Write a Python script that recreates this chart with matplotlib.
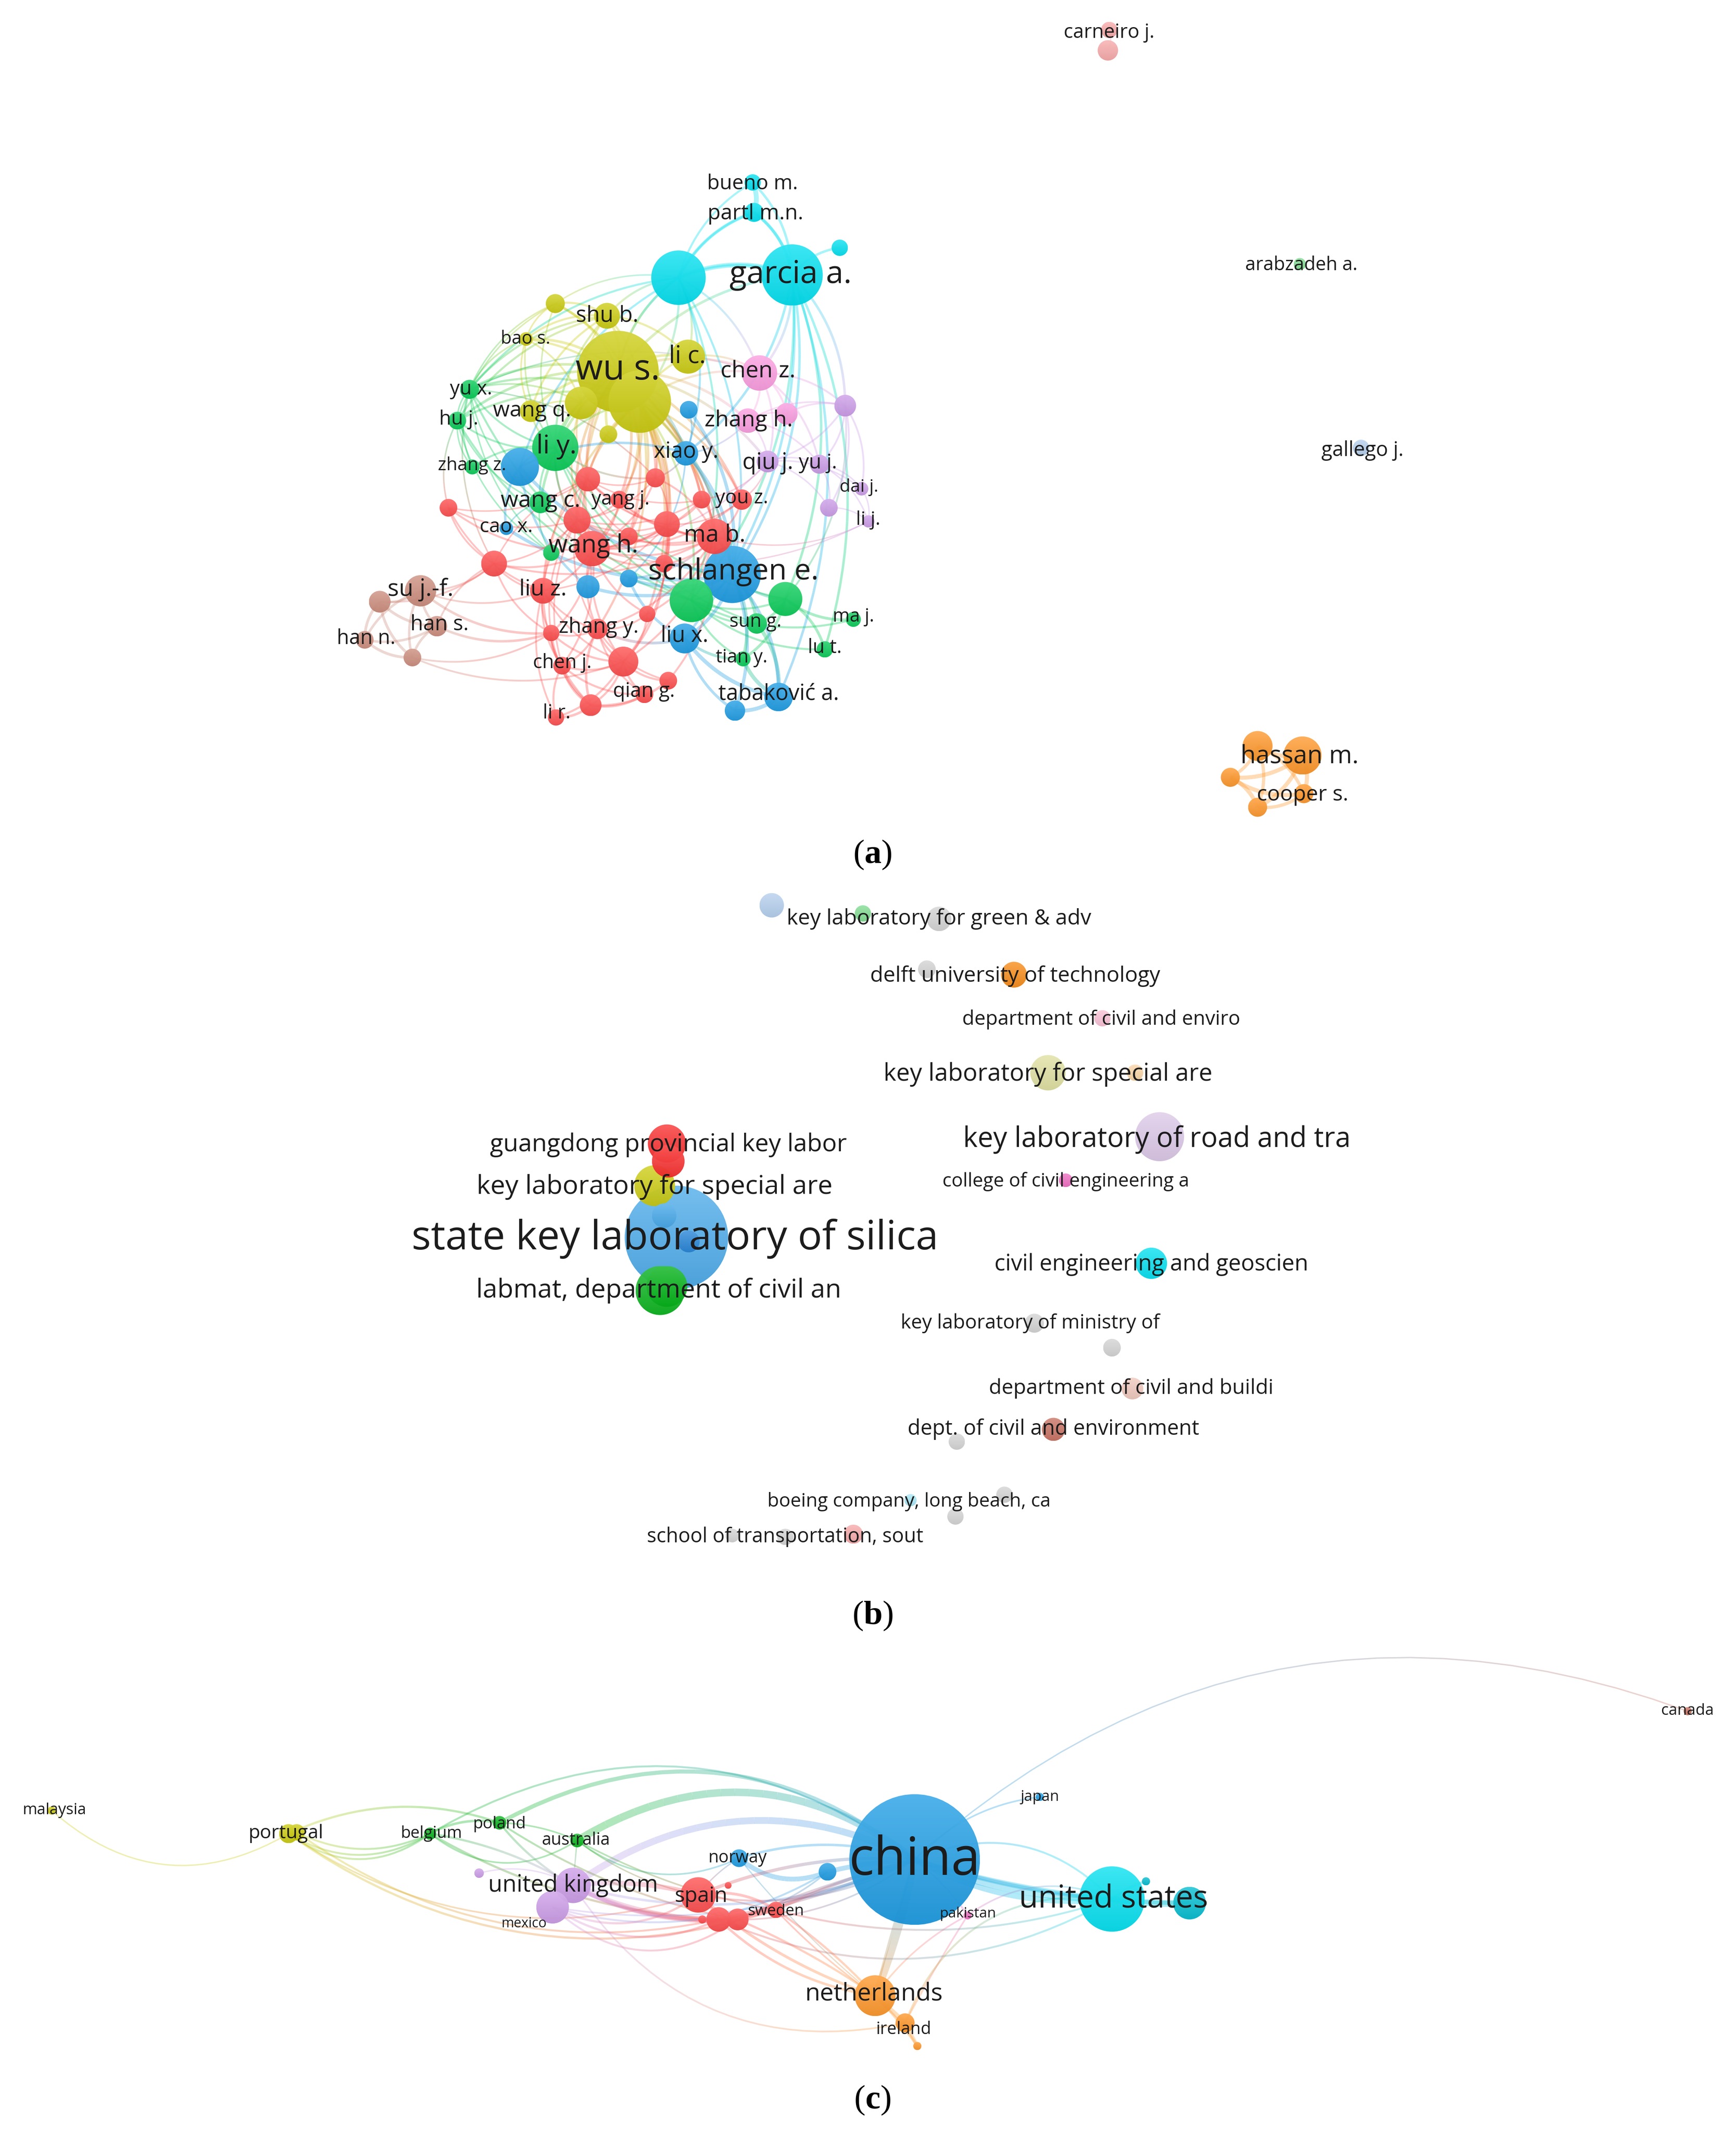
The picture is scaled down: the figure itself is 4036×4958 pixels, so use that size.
import numpy as np
import matplotlib
matplotlib.use("Agg")
import matplotlib.pyplot as plt
from matplotlib.collections import LineCollection
from matplotlib.colors import to_rgb
from matplotlib.patches import Circle

plt.rcParams['font.family'] = ['Open Sans', 'DejaVu Sans']
plt.rcParams['mathtext.fontset'] = 'custom'
plt.rcParams['mathtext.rm'] = 'Liberation Serif'
plt.rcParams['mathtext.bf'] = 'Liberation Serif:bold'

# cluster colours
colors = {
    'cyan': '#00e0f0', 'yellow': '#cccc10', 'pink': '#fc9ce0', 'purple': '#cc9ce8',
    'blue': '#1c9ce4', 'green': '#08cc58', 'red': '#ff4c4c', 'brown': '#cc8c7c',
    'orange': '#ff9628', 'rose': '#f8a8a8', 'mint': '#80dc90', 'sky': '#b4cfee',
    'teal': '#00bcd0', 'grey': '#d4d4d4', 'lyellow': '#dfe0a0', 'lorange': '#fad5a5',
    'lpink': '#fac0d5', 'lilac': '#dcc8e8', 'magenta': '#f06cc0', 'dgreen': '#08b41c',
    'dorange': '#f88a14', 'dblue': '#2a86d8', 'lblue': '#4aaaea', 'salmon': '#f0c8bc',
    'rust': '#c87060', 'lcyan': '#a8e8f8', 'dyellow': '#cccc10', 'dred': '#fa2c2c',
}

# (a) authors: node id, x, y, radius, cluster
a_ids = ['bueno', 'partl', 'cy1', 'cy0', 'garcia',
         'y_top', 'shu', 'bao', 'wu', 'lic', 'y2', 'y3', 'wangq', 'y4',
         'chenz', 'p1', 'zhangh',
         'v1', 'qiu', 'yuj', 'dai', 'v2', 'lij',
         'b1', 'xiao', 'b2', 'cao', 'schl', 'b3', 'b4', 'liux', 'tab', 'b5',
         'yux', 'huj', 'liy', 'zhangz', 'wangc', 'g1', 'g2', 'g3', 'sun', 'maj', 'lut', 'tian',
         'r1', 'r2', 'r3', 'you', 'yang', 'r4', 'r5', 'r6', 'mab', 'r7', 'wangh', 'r8', 'r9',
         'liuz', 'r10', 'r11', 'zhangy', 'chenj', 'r12', 'r13', 'qian', 'r14', 'lir',
         'su', 'br1', 'hans', 'hann', 'br2',
         'carn', 'carn2', 'arab', 'gall',
         'o1', 'hassan', 'o2', 'cooper', 'o3']
a_x = [553, 554, 617, 498.5, 582,
       408, 446, 386.5, 454, 505.5, 470, 427, 390, 447,
       558, 578, 549.5,
       621, 564, 602, 633, 609, 638,
       506, 504, 382, 372, 538, 462, 432, 503, 572, 540,
       345, 336, 408, 347, 397, 405, 508, 577, 556, 627, 606, 546,
       432, 481.5, 515.5, 545, 455, 329.5, 424, 490, 525, 462, 435, 488, 363,
       399, 475.5, 405, 439, 413, 458, 491, 473.5, 434, 408.5,
       309, 279, 321, 268, 303,
       815, 814, 955, 1000,
       924, 957, 904, 958, 924]
a_y = [134, 156, 182, 204, 202,
       223, 232, 249, 273, 262, 295, 296, 302, 319,
       274, 304, 309,
       298, 339, 341, 359, 373, 383,
       301, 333, 343, 388, 422, 425, 431, 469, 512, 522,
       286, 309, 329, 343, 369, 406, 441, 440, 458, 455, 477, 484,
       352, 351, 367, 367, 367, 373, 382, 385, 394, 394, 403, 414, 414,
       434, 451, 465, 462, 489, 486, 500, 510, 518, 527,
       434, 442, 460, 470, 483,
       22, 37, 194, 329,
       548, 555, 571, 583, 593]
a_r = [6, 7, 6, 20, 22.5,
       7, 9.5, 5, 30, 12.5, 23, 12, 8, 6.5,
       13, 8, 9,
       8, 8, 7, 5, 6.5, 4.5,
       6.5, 9, 14, 5, 21, 6.5, 8.5, 11, 10.5, 7.5,
       7, 6.5, 17, 5.5, 8, 6, 16, 12.5, 7.5, 5.5, 6, 5.5,
       9, 7, 6.5, 7.5, 6.5, 6.5, 10, 9.5, 13, 6.5, 13, 6.5, 9.5,
       9.5, 6, 6, 7.5, 6.5, 11, 6.5, 6.5, 8, 6,
       11.5, 8, 7.5, 6.5, 6.5,
       6, 7.5, 4.5, 6,
       11, 14, 7, 7, 7]
a_cluster = ['cyan'] * 5 + ['yellow'] * 9 + ['pink'] * 3 + ['purple'] * 6 + ['blue'] * 10 + \
            ['green'] * 12 + ['red'] * 23 + ['brown'] * 5 + ['rose', 'rose', 'mint', 'sky'] + ['orange'] * 5

# hub, partners, line width
a_links = [
    ('wu', 'shu y_top bao lic y2 y3 wangq y4 chenz zhangh liy yux huj wangc cy0 garcia r1 r2 r5 r6 wangh mab schl xiao qiu r3 yang r7 r8 you', 1.9),
    ('y2', 'shu y_top bao lic y3 liy yux huj chenz cy0 r1 r2 r3 you r5 r6 wangh mab schl zhangy liuz r8 yang g2 r7 r10', 1.6),
    ('y3', 'shu bao liy yux r1 wangh wangq', 1.3),
    ('shu', 'y_top bao lic liy yux cy0 wangq huj', 1.5),
    ('bao', 'y_top liy wangq yux', 1.2),
    ('y_top', 'yux cy0 liy huj', 1.1),
    ('cy0', 'garcia bueno partl lic schl xiao b2 chenz g2 yux wu', 1.5),
    ('garcia', 'bueno partl cy1 schl chenz tab liux g3 lut v1 xiao g2', 1.8),
    ('bueno', 'partl', 3.5),
    ('partl', 'garcia cy0', 2.4),
    ('garcia', 'cy0', 3.5),
    ('liy', 'yux huj zhangz wangc b2 r1 r5 wangh g2 g3 sun wangq r2', 1.4),
    ('g2', 'g3 sun maj lut tian schl huj yux', 1.5),
    ('g3', 'sun maj lut tian schl', 2.0),
    ('yux', 'huj zhangz wangc g1 r9 r2 chenz', 1.1),
    ('huj', 'zhangz wangc g1 r4', 1.1),
    ('wangc', 'g1 r5 wangh cao', 1.1),
    ('schl', 'tab b5 liux b3 b4 xiao b2 cao b1 mab sun tian', 2.4),
    ('tab', 'b5 liux sun tian', 2.8),
    ('liux', 'b5 b3 tian zhangy', 2.0),
    ('b2', 'cao b4 xiao', 1.8),
    ('xiao', 'b1 b3 r2 mab', 1.2),
    ('chenz', 'zhangh p1 v1 qiu lic yuj', 1.4),
    ('zhangh', 'p1 v1 qiu yuj xiao', 1.2),
    ('v1', 'qiu yuj dai v2 p1 g3', 1.3),
    ('yuj', 'qiu v2 dai lij', 1.1),
    ('qiu', 'v2 dai r3 you wangh', 1.1),
    ('lij', 'v2 dai wangh mab', 1.0),
    ('wangh', 'r1 r2 r3 you yang r4 r5 r6 mab r7 r8 r9 liuz r10 r11 zhangy r12 chenj', 1.4),
    ('mab', 'r1 r2 r3 you yang r5 r6 r7 r8 r9 r10 zhangy r12 r13 b3', 1.4),
    ('r5', 'r1 r2 r3 yang r4 r6 r7 r9 liuz r11 zhangy chenj', 1.2),
    ('r1', 'r2 r3 yang r4 r6 r7 r9 liuz', 1.1),
    ('r6', 'r2 r3 you yang r7 r8 liuz r10 r12', 1.1),
    ('liuz', 'r9 r4 r11 zhangy chenj r12 r14 lir su', 1.3),
    ('r12', 'zhangy chenj r13 qian r14 lir r10 r11 r8', 1.5),
    ('r14', 'lir chenj qian r11 zhangy r13', 1.8),
    ('chenj', 'lir r11 zhangy qian', 1.5),
    ('zhangy', 'r10 r11 qian r13', 1.3),
    ('r9', 'r4 su br1 hans r11', 1.3),
    ('su', 'br1 hans hann br2 r11', 1.8),
    ('br1', 'hans hann br2', 2.0),
    ('hans', 'hann br2 r11', 1.8),
    ('hann', 'br2', 2.0),
    ('br2', 'r12 r11', 1.3),
    ('carn', 'carn2', 1.0),
    ('hassan', 'o1 o2 o3 cooper', 3.0),
    ('o1', 'o2 o3 cooper', 2.4),
    ('o2', 'o3 cooper', 3.0),
    ('o3', 'cooper', 2.4),
]

a_labels = ['bueno m.', 'partl m.n.', 'garcia a.', 'shu b.', 'bao s.', 'wu s.', 'li c.', 'chen z.',
            'yu x.', 'hu j.', 'wang q.', 'zhang h.', 'li y.', 'xiao y.', 'zhang z.', 'qiu j.',
            'yu j.', 'dai j.', 'wang c.', 'yang j.', 'you z.', 'li j.', 'cao x.', 'ma b.',
            'wang h.', 'schlangen e.', 'su j.-f.', 'liu z.', 'han s.', 'zhang y.', 'sun g.', 'ma j.',
            'han n.', 'liu x.', 'lu t.', 'tian y.', 'chen j.', 'qian g.', 'tabaković a.', 'li r.',
            'carneiro j.', 'arabzadeh a.', 'gallego j.', 'hassan m.', 'cooper s.']
a_label_x = [553, 555, 581, 446, 386, 454, 505, 557,
             346, 337, 391, 550, 409, 504, 347, 564,
             601, 631, 397, 456, 545, 638, 372, 525,
             436, 539, 309, 399, 323, 440, 555, 627,
             269, 503, 606, 545, 413, 473, 572, 409,
             815, 956, 1001, 955, 957]
a_label_y = [135, 157, 202, 232, 249, 272, 262, 273,
             286, 308, 302, 309, 328, 332, 342, 340,
             340, 358, 368, 367, 366, 382, 387, 393,
             401, 420, 433, 433, 459, 461, 457, 453,
             469, 467, 476, 483, 487, 508, 510, 524,
             24, 195, 331, 556, 584]
a_label_em = [15, 15.6, 23.2, 16.2, 13.2, 26, 18, 16.9,
              14.4, 14.4, 15.9, 16.5, 19.3, 16.1, 13.3, 16.6,
              14.9, 13, 16.8, 14.3, 14.4, 14, 14.6, 17.3,
              18.2, 21.6, 17.4, 16.5, 15.4, 15.4, 13.8, 13.5,
              14.8, 16.2, 14.3, 13.6, 14.2, 14.7, 16.1, 14.2,
              14.3, 13.7, 14.8, 18.3, 15.8]

# (b) organisations: x, y, radius, cluster
b_x = [567, 634, 690, 681, 745, 810, 770, 834, 852, 783, 491, 490, 481, 497, 488, 506,
       490, 485, 846, 760, 817, 832, 774, 703, 738, 669, 702, 627, 538, 577]
b_y = [665, 671, 675, 712, 716, 748, 788, 788, 835, 867, 853, 840, 871, 909, 893, 912,
       945, 948, 928, 972, 990, 1020, 1050, 1059, 1098, 1102, 1114, 1127, 1128, 1129]
b_r = [9, 6, 9, 6.5, 9.5, 6, 13, 6, 18, 5, 12, 14, 15, 38, 9, 8,
       15, 18, 11.5, 7, 6.5, 8, 8.5, 6, 6, 4.5, 6, 7, 5, 6]
b_cluster = ['sky', 'mint', 'grey', 'grey', 'dorange', 'lpink', 'lyellow', 'lorange', 'lilac', 'magenta',
             'dred', 'dred', 'dyellow', 'lblue', 'lblue', 'dblue',
             'dgreen', 'dgreen', 'cyan', 'grey', 'grey', 'salmon', 'rust', 'grey', 'grey', 'lcyan', 'grey',
             'rose', 'grey', 'grey']
b_labels = ['key laboratory for green & adv', 'delft university of technology',
            'department of civil and enviro', 'key laboratory for special are',
            'guangdong provincial key labor', 'key laboratory of road and tra',
            'college of civil engineering a', 'key laboratory for special are',
            'state key laboratory of silica', 'labmat, department of civil an',
            'civil engineering and geoscien', 'key laboratory of ministry of',
            'department of civil and buildi', 'dept. of civil and environment',
            'boeing company, long beach, ca', 'school of transportation, sout']
b_label_x = [690, 746, 809, 770, 491, 850, 783, 481, 496, 484, 846, 757, 831, 774, 668, 577]
b_label_y = [675, 717, 749, 789, 841, 837, 868, 872, 910, 948, 929, 972, 1020, 1050, 1103, 1129]
b_label_em = [15.8, 15.8, 14.6, 17.8, 18, 20.4, 13.9, 19.3, 29.8, 19.2, 16.6, 14.5, 15.3, 15.4, 14, 14.7]

# (c) countries: x, y, radius, cluster
c_ids = ['malaysia', 'port', 'port2', 'belgium', 'poland', 'australia', 'pm', 'uk', 'uk2',
         'spain', 'sp2', 'sp3', 'sweden', 'sp4', 'sp5', 'norway', 'nb', 'china', 'japan',
         'pakistan', 'us', 'us2', 'us3', 'neth', 'ireland', 'ir2', 'canada']
c_x = [38, 212, 218, 316, 367, 424, 352, 421, 406,
       513, 528, 542, 570, 516, 535, 543, 608, 672, 764,
       711, 817, 874, 842, 643, 665, 674, 1240]
c_y = [1330, 1347, 1346, 1347, 1339, 1352, 1376, 1385, 1401,
       1392, 1410, 1410, 1403, 1410, 1385, 1365, 1375, 1366, 1320,
       1407, 1395, 1398, 1382, 1466, 1486, 1503, 1257]
c_r = [3, 7, 6, 4.5, 5, 5, 3.5, 13, 12,
       13, 9, 8, 6, 3, 2.5, 6.5, 6.5, 48, 3,
       3, 24, 12, 3, 15, 7, 3, 3]
c_cluster = ['yellow', 'yellow', 'yellow', 'dgreen', 'dgreen', 'dgreen', 'purple', 'purple', 'purple',
             'red', 'red', 'red', 'red', 'red', 'red', 'blue', 'blue', 'blue', 'blue',
             'magenta', 'cyan', 'teal', 'teal', 'orange', 'orange', 'orange', 'rust']
# from, to, width, bend
c_edges = [
    ('china', 'canada', 1.0, 0.30), ('china', 'japan', 1.2, 0.18),
    ('malaysia', 'port', 1.0, -0.36),
    ('port', 'poland', 1.6, 0.20), ('port', 'belgium', 1.4, -0.30), ('port2', 'belgium', 1.4, -0.24),
    ('port', 'belgium', 1.4, -0.36),
    ('port', 'sweden', 1.6, -0.25), ('port', 'spain', 1.2, -0.24), ('port2', 'sp2', 1.4, -0.22),
    ('poland', 'china', 3.0, 0.33), ('belgium', 'china', 1.4, 0.33), ('australia', 'china', 5.5, 0.34),
    ('uk', 'china', 5.0, 0.30), ('norway', 'australia', 1.2, 0.30), ('australia', 'spain', 1.0, -0.12),
    ('belgium', 'poland', 1.8, 0.18), ('belgium', 'australia', 1.2, -0.35), ('poland', 'australia', 1.2, 0.10),
    ('belgium', 'uk', 1.6, 0.10), ('poland', 'uk', 1.6, -0.10), ('australia', 'uk', 1.0, 0.0),
    ('belgium', 'sp2', 1.6, -0.12), ('poland', 'sp3', 1.4, -0.10), ('australia', 'sweden', 1.2, -0.08),
    ('pm', 'uk', 1.0, 0.2), ('uk', 'spain', 3.5, 0.10), ('uk', 'sp2', 4.0, -0.12), ('uk', 'sp3', 3.5, -0.15),
    ('uk', 'sweden', 2.4, -0.20), ('uk2', 'spain', 1.6, -0.30), ('uk2', 'sp2', 1.6, -0.28),
    ('uk2', 'sp3', 1.4, -0.40), ('uk', 'china', 1.8, -0.18), ('uk2', 'nb', 1.4, -0.22),
    ('uk', 'ireland', 1.2, -0.34), ('uk2', 'china', 1.2, -0.15),
    ('norway', 'nb', 3.5, -0.30), ('nb', 'china', 3.5, 0.05), ('norway', 'china', 1.8, 0.16),
    ('norway', 'spain', 1.0, -0.10), ('norway', 'neth', 0.9, -0.05), ('nb', 'sp2', 1.2, 0.15),
    ('spain', 'china', 2.4, 0.12), ('sp2', 'china', 3.0, -0.05), ('sp3', 'china', 2.4, 0.03),
    ('sweden', 'china', 2.4, 0.05), ('spain', 'china', 1.4, -0.18), ('sp2', 'china', 1.2, -0.18),
    ('china', 'us', 5.0, -0.10), ('china', 'us', 4.0, -0.16), ('china', 'us', 3.0, -0.05),
    ('china', 'us', 1.4, 0.34), ('china', 'us2', 3.0, -0.08), ('us', 'us2', 5.0, -0.05),
    ('us', 'us3', 2.0, 0.1), ('china', 'pakistan', 1.4, 0.08), ('pakistan', 'us', 1.2, 0.28),
    ('china', 'neth', 5.5, 0.05), ('china', 'neth', 1.8, -0.02), ('pakistan', 'neth', 1.2, -0.12),
    ('pakistan', 'ireland', 1.2, -0.02), ('spain', 'neth', 2.0, -0.10), ('sp2', 'neth', 1.8, -0.16),
    ('sp3', 'neth', 1.6, 0.05), ('sweden', 'neth', 1.6, 0.06), ('sweden', 'neth', 1.2, -0.05),
    ('sp2', 'us', 1.4, -0.25), ('sweden', 'us', 1.4, -0.15), ('neth', 'ireland', 3.5, 0.0),
    ('ireland', 'ir2', 2.5, 0.0), ('neth', 'ir2', 2.0, 0.05), ('ireland', 'us', 1.4, 0.38),
    ('sp3', 'sweden', 2.0, 0.1), ('spain', 'sp2', 2.0, 0.1), ('spain', 'sweden', 2.0, 0.2),
]
c_labels = ['malaysia', 'portugal', 'belgium', 'poland', 'australia', 'norway', 'united kingdom', 'mexico',
            'spain', 'sweden', 'china', 'japan', 'pakistan', 'united states', 'netherlands', 'ireland', 'canada']
c_label_x = [40, 210, 317, 367, 423, 542, 421, 385, 515, 570, 672, 764, 711, 818, 642, 664, 1240]
c_label_y = [1330, 1347, 1347, 1340, 1352, 1365, 1385, 1413, 1393, 1404, 1367, 1320, 1406, 1395, 1465, 1491, 1257]
c_label_em = [11.5, 14, 12, 12, 12.5, 12.5, 17, 10, 15.5, 11.5, 38.5, 11, 10.5, 23, 18, 12.5, 11.5]

panel_tags = ['a', 'b', 'c']
panel_tag_x = [641, 641, 641]
panel_tag_y = [628, 1187, 1543]

X_MAX = 1275.5
Y_MAX = X_MAX * 4958 / 4036
PT = 4036 / X_MAX * 72 / 100   # one unit of the drawing in points


def bezier(p0, p1, bend, n=24):
    p0, p1 = np.array(p0, float), np.array(p1, float)
    d = p1 - p0
    normal = np.array([d[1], -d[0]])
    ctrl = (p0 + p1) / 2 + bend * normal
    t = np.linspace(0, 1, n + 1)[:, None]
    return (1 - t) ** 2 * p0 + 2 * t * (1 - t) * ctrl + t ** 2 * p1


def draw_edges(ax, edges, alpha=0.34):
    segs, cols, widths = [], [], []
    for p0, p1, c0, c1, w, bend in edges:
        pts = bezier(p0, p1, bend)
        c0, c1 = np.array(to_rgb(colors[c0])), np.array(to_rgb(colors[c1]))
        for i in range(len(pts) - 1):
            t = (i + 0.5) / (len(pts) - 1)
            segs.append(pts[i:i + 2])
            cols.append((*(c0 * (1 - t) + c1 * t), alpha))
            widths.append(w * PT)
    ax.add_collection(LineCollection(segs, colors=cols, linewidths=widths, zorder=2, capstyle='butt'))


def draw_nodes(ax, xs, ys, rs, clusters):
    for x, y, r, cl in sorted(zip(xs, ys, rs, clusters), key=lambda v: -v[2]):
        base = np.array(to_rgb(colors[cl]))
        top = base + (1 - base) * 0.2
        bottom = base * 0.93
        g = np.linspace(0, 1, 48)[:, None, None]
        img = top * (1 - g) + bottom * g
        im = ax.imshow(img, extent=(x - r, x + r, y + r, y - r), interpolation='bilinear',
                       alpha=0.96, zorder=3, aspect='auto')
        im.set_clip_path(Circle((x, y), r, transform=ax.transData))


def draw_labels(ax, labels, xs, ys, ems):
    for s, x, y, em in zip(labels, xs, ys, ems):
        ax.text(x, y, s, fontsize=em * PT, ha='center', va='center', color='#1c1c1c', zorder=5)


fig = plt.figure(figsize=(40.36, 49.58), dpi=100)
ax = fig.add_axes([0, 0, 1, 1])

# panel a
pos_a = {k: (x, y) for k, x, y in zip(a_ids, a_x, a_y)}
col_a = dict(zip(a_ids, a_cluster))
cx_a, cy_a = 450, 340
edges_a = []
for hub, partners, w in a_links:
    for other in partners.split():
        p0, p1 = pos_a[hub], pos_a[other]
        # arcs bow away from the middle of the network
        mx, my = (p0[0] + p1[0]) / 2 - cx_a, (p0[1] + p1[1]) / 2 - cy_a
        d = (p1[0] - p0[0], p1[1] - p0[1])
        side = 1 if (d[1] * mx - d[0] * my) >= 0 else -1
        edges_a.append((p0, p1, col_a[hub], col_a[other], w, side * 0.2))
draw_edges(ax, edges_a)
draw_nodes(ax, a_x, a_y, a_r, a_cluster)
draw_labels(ax, a_labels, a_label_x, a_label_y, a_label_em)

# panel b, no links shown
draw_nodes(ax, b_x, b_y, b_r, b_cluster)
draw_labels(ax, b_labels, b_label_x, b_label_y, b_label_em)

# panel c
pos_c = {k: (x, y) for k, x, y in zip(c_ids, c_x, c_y)}
col_c = dict(zip(c_ids, c_cluster))
draw_edges(ax, [(pos_c[f], pos_c[t], col_c[f], col_c[t], w, b) for f, t, w, b in c_edges], alpha=0.32)
draw_nodes(ax, c_x, c_y, c_r, c_cluster)
draw_labels(ax, c_labels, c_label_x, c_label_y, c_label_em)

for tag, x, y in zip(panel_tags, panel_tag_x, panel_tag_y):
    ax.text(x, y, r'($\mathbf{' + tag + r'}$)', fontsize=25 * PT, ha='center', va='center',
            family='Liberation Serif', color='black', zorder=5)

ax.set_xlim(0, X_MAX)
ax.set_ylim(Y_MAX, 0)
ax.axis('off')

fig.savefig('out.png', dpi=100, facecolor='white')
